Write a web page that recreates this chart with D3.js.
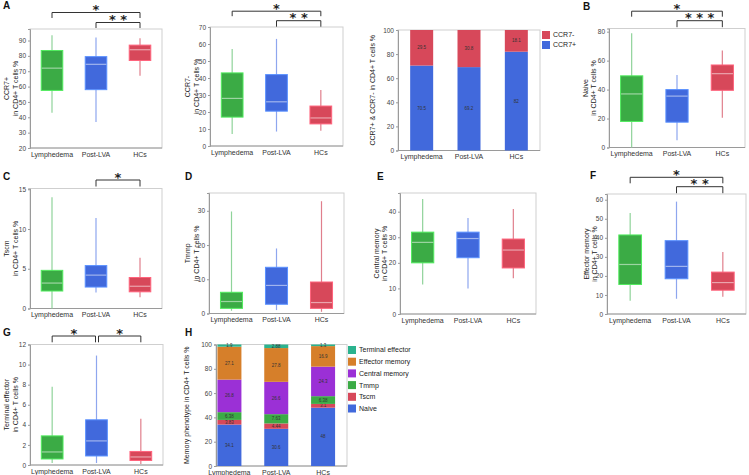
<!DOCTYPE html>
<html>
<head>
<meta charset="utf-8">
<script src="https://cdn.jsdelivr.net/npm/d3@7"></script>
<style>
  body { margin: 0; background: #fff; }
  svg { display: block; font-family: 'Liberation Sans', Arial, sans-serif; }
</style>
</head>
<body>
<svg id="fig" width="749" height="475"></svg>
<script>
// groups and colours
const groups = ['Lymphedema', 'Post-LVA', 'HCs'];
const groupColors = ['#3bab45', '#4169dc', '#d7485a'];
const whiskerColors = ['#8fd39a', '#8ea6ee', '#e07f8c'];

// box summaries: [min, q1, median, q3, max]
const ccr7PosBox = [[43, 57.5, 72, 83.5, 93.5], [37, 58, 74.5, 79.5, 92], [67, 77, 84, 87, 91.5]];
const ccr7NegBox = [[7, 17, 28, 43, 57], [8.5, 20.5, 26, 42, 63], [9, 13, 16.5, 23.5, 33]];
const naiveBox = [[0, 18, 37, 49.5, 79], [5, 17.5, 35.5, 40, 50], [20.5, 39.5, 51, 57, 67]];
const tscmBox = [[0, 2.2, 3.2, 4.8, 14], [2, 2.7, 4.2, 5.4, 11.4], [1.4, 2.1, 2.8, 3.9, 6.4]];
const tmmpBox = [[0.8, 1.5, 3.5, 6.2, 29.8], [1, 2.7, 8.2, 13.5, 19], [0.5, 1.5, 3.2, 9.2, 32.8]];
const cmBox = [[11.5, 20, 28, 32, 45], [10, 22, 29.5, 32, 37.5], [14, 18, 25, 29.3, 41]];
const emBox = [[7, 15.5, 26, 41.5, 53], [8, 18.5, 25, 38.5, 59], [9, 12.5, 16.5, 22, 32.5]];
const teBox = [[0.2, 0.6, 1.3, 2.9, 7.8], [0.2, 0.9, 2.4, 4.5, 10.9], [0.1, 0.45, 0.8, 1.35, 4.6]];

// stacked CCR7 percentages
const ccr7Series = ['CCR7+', 'CCR7-'];
const ccr7Colors = ['#4169dc', '#d7485a'];
const ccr7PosPct = [70.5, 69.2, 82];
const ccr7NegPct = [29.5, 30.8, 18.1];

// memory phenotype percentages (bottom to top)
const phenotypes = ['Naive', 'Tscm', 'Tmmp', 'Central memory', 'Effector memory', 'Terminal effector'];
const phenoColors = ['#4169dc', '#d7485a', '#3bab45', '#9b30d6', '#d67f2a', '#2bb38e'];
const naivePct = [34.1, 30.6, 48];
const tscmPct = [3.83, 4.44, 3.1];
const tmmpPct = [6.38, 7.63, 6.38];
const cmPct = [26.8, 26.6, 24.3];
const emPct = [27.1, 27.8, 16.9];
const tePct = [1.9, 2.88, 1.3];

const svg = d3.select('#fig');

function frame(p) {
    svg.append('rect')
        .attr('x', p.x0).attr('y', p.y0)
        .attr('width', p.x1 - p.x0).attr('height', p.y1 - p.y0)
        .attr('fill', 'none').attr('stroke', '#cfcfcf').attr('stroke-width', 1);

    var yScale = d3.scaleLinear().domain(p.domain).range([p.y1, p.y0]);
    var xScale = d3.scaleBand().domain(groups).range(p.xr || [p.x0, p.x1]);

    var yAxis = svg.append('g')
        .attr('transform', 'translate(' + p.x0 + ',0)')
        .call(d3.axisLeft(yScale).tickValues(p.ticks).tickSize(2).tickPadding(2));
    yAxis.select('.domain').attr('stroke', '#9a9a9a');
    yAxis.selectAll('line').attr('stroke', '#9a9a9a');
    yAxis.selectAll('text').attr('font-size', '6.5px').attr('fill', '#444')
        .attr('font-family', "'Liberation Sans', Arial, sans-serif");

    var xAxis = svg.append('g')
        .attr('transform', 'translate(0,' + p.y1 + ')')
        .call(d3.axisBottom(xScale).tickSize(0).tickPadding(4));
    xAxis.select('.domain').remove();
    xAxis.append('line').attr('x1', p.x0).attr('x2', p.x1).attr('stroke', '#9a9a9a');
    xAxis.selectAll('text').attr('font-size', '7px').attr('fill', '#333')
        .attr('font-family', "'Liberation Sans', Arial, sans-serif");

    // y label
    var cy = (p.y0 + p.y1) / 2;
    p.ylab.forEach((t, i) => {
        svg.append('text')
            .attr('transform', 'translate(' + p.ylabX[i] + ',' + cy + ') rotate(-90)')
            .attr('text-anchor', 'middle')
            .attr('dy', '0.35em')
            .attr('font-size', '7px')
            .attr('fill', '#222')
            .text(t);
    });

    if (p.letter) {
        svg.append('text')
            .attr('x', p.letter[1]).attr('y', p.letter[2])
            .attr('font-size', '10px').attr('font-weight', 'bold')
            .attr('fill', '#111')
            .text(p.letter[0]);
    }
    return { x: xScale, y: yScale };
}

function brackets(list, xScale) {
    list.forEach((b) => {
        var xa = xScale(groups[b.a]) + xScale.bandwidth() / 2 + (b.da || 0);
        var xb = xScale(groups[b.b]) + xScale.bandwidth() / 2 + (b.db || 0);
        svg.append('path')
            .attr('d', 'M' + xa + ',' + (b.y + b.drop) + 'V' + b.y + 'H' + xb + 'V' + (b.y + b.drop))
            .attr('fill', 'none').attr('stroke', '#333').attr('stroke-width', 1);
        svg.append('text')
            .attr('x', (xa + xb) / 2).attr('y', b.y + 1.5)
            .attr('text-anchor', 'middle')
            .attr('font-size', '13px')
            .attr('font-weight', 'bold')
            .attr('font-family', "'DejaVu Sans', sans-serif")
            .attr('fill', '#222')
            .text(b.stars);
    });
}

function boxPanel(p) {
    var s = frame(p);
    var bw = s.x.bandwidth() * 0.49;
    var g = svg.append('g');
    p.data.forEach((d, i) => {
        var cx = s.x(groups[i]) + s.x.bandwidth() / 2;
        g.append('line')
            .attr('x1', cx).attr('x2', cx)
            .attr('y1', s.y(d[0])).attr('y2', s.y(d[4]))
            .attr('stroke', whiskerColors[i]).attr('stroke-width', 1.2);
        g.append('rect')
            .attr('x', cx - bw / 2).attr('width', bw)
            .attr('y', s.y(d[3])).attr('height', s.y(d[1]) - s.y(d[3]))
            .attr('fill', groupColors[i])
            .attr('stroke', d3.color(groupColors[i]).brighter(0.9))
            .attr('stroke-width', 1);
        g.append('line')
            .attr('x1', cx - bw / 2 + 0.5).attr('x2', cx + bw / 2 - 0.5)
            .attr('y1', s.y(d[2])).attr('y2', s.y(d[2]))
            .attr('stroke', '#ffffff').attr('stroke-opacity', 0.5).attr('stroke-width', 1.2);
    });
    if (p.brackets) brackets(p.brackets, s.x);
}

function stackPanel(p, seriesVals, colors) {
    var s = frame(p);
    var bw = p.bw;
    var g = svg.append('g');
    groups.forEach((grp, i) => {
        var cx = s.x(grp) + s.x.bandwidth() / 2;
        var acc = 0;
        seriesVals.forEach((vals, k) => {
            var v = vals[i];
            var top = Math.min(acc + v, 100);
            g.append('rect')
                .attr('x', cx - bw / 2).attr('width', bw)
                .attr('y', s.y(top)).attr('height', s.y(acc) - s.y(top))
                .attr('fill', colors[k]);
            g.append('text')
                .attr('x', cx).attr('y', s.y((acc + top) / 2))
                .attr('dy', '0.35em')
                .attr('text-anchor', 'middle')
                .attr('font-size', '4.5px')
                .attr('fill', '#333')
                .text(v);
            acc = top;
        });
    });
}

function legend(x, y, step, names, colors) {
    names.forEach((n, i) => {
        svg.append('rect')
            .attr('x', x).attr('y', y + i * step)
            .attr('width', 8).attr('height', 8)
            .attr('fill', colors[i]);
        svg.append('text')
            .attr('x', x + 11).attr('y', y + i * step + 4)
            .attr('dy', '0.35em')
            .attr('font-size', '7px').attr('fill', '#222')
            .text(n);
    });
}

// A: CCR7+
boxPanel({
    x0: 30, x1: 162, y0: 29, y1: 148, domain: [20, 97.5], ticks: d3.range(20, 91, 10),
    data: ccr7PosBox, ylab: ['CCR7+', 'in CD4+ T cells %'], ylabX: [7, 15.5],
    letter: ['A', 3, 9],
    brackets: [{ a: 0, b: 2, y: 12.5, drop: 5.5, stars: '*' }, { a: 1, b: 2, y: 22.5, drop: 5.5, stars: '* *' }]
});
// A: CCR7-
boxPanel({
    x0: 210, x1: 343, y0: 27, y1: 146, domain: [0, 70], ticks: d3.range(0, 71, 10),
    data: ccr7NegBox, ylab: ['CCR7-', 'in CD4+ T cells %'], ylabX: [188, 196.5],
    brackets: [{ a: 0, b: 2, y: 11.2, drop: 5, stars: '*' }, { a: 1, b: 2, y: 20.7, drop: 6, stars: '* *' }]
});
// A: stacked CCR7
stackPanel({
    x0: 398, x1: 540, y0: 30, y1: 150.5, domain: [0, 100], ticks: d3.range(0, 101, 20),
    ylab: ['CCR7+ & CCR7- in CD4+ T cells %'], ylabX: [373], bw: 23
}, [ccr7PosPct, ccr7NegPct], ccr7Colors);
legend(542, 31, 10, ['CCR7-', 'CCR7+'], [ccr7Colors[1], ccr7Colors[0]]);

// B: Naive
boxPanel({
    x0: 609, x1: 745, y0: 28.5, y1: 147.5, domain: [0, 82.2], ticks: d3.range(0, 81, 20),
    data: naiveBox, ylab: ['Naive', 'in CD4+ T cells %'], ylabX: [586, 594],
    letter: ['B', 583, 10],
    brackets: [{ a: 0, b: 2, y: 11.2, drop: 5.5, stars: '*' }, { a: 1, b: 2, y: 20.7, drop: 6.5, stars: '* * *' }]
});

// C: Tscm
boxPanel({
    x0: 30, x1: 162, y0: 188.5, y1: 308.5, domain: [0, 15.1], ticks: [0, 5, 10, 15],
    data: tscmBox, ylab: ['Tscm', 'in CD4+ T cells %'], ylabX: [7, 15.5],
    letter: ['C', 3, 180],
    brackets: [{ a: 1, b: 2, y: 180, drop: 6.5, stars: '*' }]
});
// D: Tmmp
boxPanel({
    x0: 209, x1: 344, y0: 193, y1: 313.5, domain: [0, 35.2], ticks: [0, 10, 20, 30],
    data: tmmpBox, ylab: ['Tmmp', 'in CD4+ T cells %'], ylabX: [188, 196.5],
    letter: ['D', 185, 180]
});
// E: Central memory
boxPanel({
    x0: 400, x1: 536, y0: 193, y1: 314, domain: [0, 47.3], ticks: d3.range(0, 41, 10),
    data: cmBox, ylab: ['Central memory', 'in CD4+ T cells %'], ylabX: [377, 385],
    letter: ['E', 377, 180]
});
// F: Effector memory
boxPanel({
    x0: 607, x1: 746, y0: 194, y1: 314, domain: [0, 63], ticks: d3.range(0, 61, 10),
    data: emBox, ylab: ['Effector memory', 'in CD4+ T cells %'], ylabX: [587, 595],
    letter: ['F', 590, 178.5],
    brackets: [{ a: 0, b: 2, y: 177.3, drop: 6, stars: '*' }, { a: 1, b: 2, y: 186.7, drop: 6.5, stars: '* *' }]
});

// G: Terminal effector
boxPanel({
    x0: 30, x1: 163, y0: 344.5, y1: 465, domain: [0, 12], ticks: d3.range(0, 13, 2),
    data: teBox, ylab: ['Terminal effector', 'in CD4+ T cells %'], ylabX: [7, 15.5],
    letter: ['G', 3, 336],
    brackets: [{ a: 0, b: 1, y: 336, drop: 6.3, stars: '*', db: -1 }, { a: 1, b: 2, y: 336, drop: 6.3, stars: '*', da: 2 }]
});

// H: memory phenotype stacked
stackPanel({
    x0: 216, x1: 347, y0: 344.5, y1: 466, domain: [0, 100], ticks: d3.range(0, 101, 20),
    xr: [206, 346.5],
    ylab: ['Memory phenotype in CD4+ T cells %'], ylabX: [187], letter: ['H', 185, 336], bw: 24
}, [naivePct, tscmPct, tmmpPct, cmPct, emPct, tePct], phenoColors);
legend(348, 346, 11.7, phenotypes.slice().reverse(), phenoColors.slice().reverse());
</script>
</body>
</html>
